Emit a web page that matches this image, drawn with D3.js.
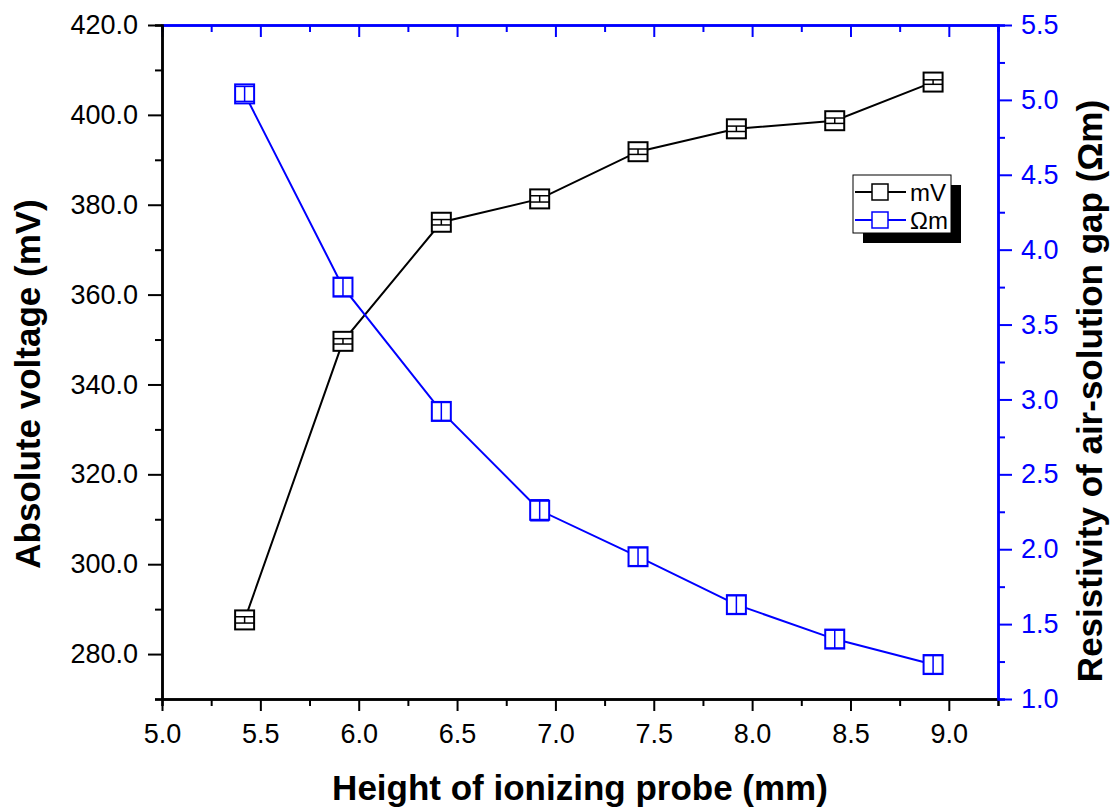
<!DOCTYPE html>
<html>
<head>
<meta charset="utf-8">
<script src="https://cdn.jsdelivr.net/npm/d3@7"></script>
<style>
  body { margin: 0; background: #fff; }
  text { font-family: Arial, "Liberation Sans", sans-serif; }
</style>
</head>
<body>
<div id="chart"></div>
<script>
// data
const heights = [5.42, 5.92, 6.42, 6.92, 7.42, 7.92, 8.42, 8.92];
const voltage = [287.6, 349.6, 376.1, 381.3, 391.8, 396.9, 398.7, 407.3];
const voltageErr = [0.7, 0.6, 0.6, 0.7, 0.6, 0.6, 0.6, 0.5];
const resistivity = [5.04, 3.75, 2.92, 2.26, 1.95, 1.63, 1.40, 1.23];
const resistivityErr = [0.05, 0.06, 0.06, 0.07, 0.06, 0.06, 0.06, 0.06];
const xTicks = [5.0, 5.5, 6.0, 6.5, 7.0, 7.5, 8.0, 8.5, 9.0];
const yLeftTicks = [280, 300, 320, 340, 360, 380, 400, 420];
const yRightTicks = [1.0, 1.5, 2.0, 2.5, 3.0, 3.5, 4.0, 4.5, 5.0, 5.5];
const legendItems = ["mV", "\u03A9m"];

const width = 1115, height = 811;
const mLeft = 162, mRight = 998, mTop = 25, mBottom = 699;
const blue = "#0000ff";

const svg = d3.select("#chart").append("svg")
    .attr("width", width)
    .attr("height", height);

const x = d3.scaleLinear().domain([5.0, 9.25]).range([mLeft, mRight]);
const yL = d3.scaleLinear().domain([270, 420]).range([mBottom, mTop]);
const yR = d3.scaleLinear().domain([1.0, 5.5]).range([mBottom, mTop]);

function minorTicks(major, step) {
    const res = [];
    for (let i = 0; i < major.length; i++) res.push(major[i] + step);
    return res;
}

// bottom axis
const gx = svg.append("g").attr("transform", `translate(0,${mBottom})`);
gx.call(d3.axisBottom(x).tickValues(xTicks).tickSize(12).tickSizeOuter(0).tickFormat(d3.format(".1f")));
gx.append("g").call(d3.axisBottom(x).tickValues(minorTicks(xTicks, 0.25).filter(d => d < 9.25)).tickSize(7).tickFormat(""));

// top axis (blue, inward ticks)
const gt = svg.append("g").attr("transform", `translate(0,${mTop})`);
gt.call(d3.axisBottom(x).tickValues(xTicks).tickSize(12).tickSizeOuter(0).tickFormat(""));
gt.append("g").call(d3.axisBottom(x).tickValues(minorTicks(xTicks, 0.25).filter(d => d < 9.25)).tickSize(7).tickFormat(""));
gt.selectAll("path, line").attr("stroke", blue);

// left axis
const gl = svg.append("g").attr("transform", `translate(${mLeft},0)`);
gl.call(d3.axisLeft(yL).tickValues(yLeftTicks).tickSize(14).tickSizeOuter(0).tickFormat(d3.format(".1f")));
gl.append("g").call(d3.axisLeft(yL).tickValues(minorTicks(yLeftTicks, -10)).tickSize(7).tickFormat(""));

// right axis
const gr = svg.append("g").attr("transform", `translate(${mRight},0)`);
gr.call(d3.axisRight(yR).tickValues(yRightTicks).tickSize(14).tickSizeOuter(0).tickFormat(d3.format(".1f")));
gr.append("g").call(d3.axisRight(yR).tickValues(minorTicks(yRightTicks, 0.25).filter(d => d < 5.5)).tickSize(7).tickFormat(""));
gr.selectAll("path, line").attr("stroke", blue);
gr.selectAll("text").attr("fill", blue);

svg.selectAll(".domain").attr("stroke-width", 2.5);
svg.selectAll(".tick line").attr("stroke-width", 2);
svg.selectAll(".tick text").style("font-size", "27px").style("font-family", "Arial, 'Liberation Sans', sans-serif");
gx.selectAll(".tick text").attr("y", 44).attr("dy", 0);
gl.selectAll(".tick text").attr("x", -24);
gr.selectAll(".tick text").attr("x", 23);

// series
function drawSeries(vals, errs, y, color) {
    const pts = heights.map((h, i) => ({x: h, y: vals[i], e: errs[i]}));
    const line = d3.line().x(d => x(d.x)).y(d => y(d.y));
    svg.append("path")
        .attr("d", line(pts))
        .attr("fill", "none")
        .attr("stroke", color)
        .attr("stroke-width", 2);
    const s = 19;
    const g = svg.append("g").selectAll("g").data(pts).join("g")
        .attr("transform", d => `translate(${x(d.x)},${y(d.y)})`);
    g.append("rect")
        .attr("x", -s / 2).attr("y", -s / 2)
        .attr("width", s).attr("height", s)
        .attr("fill", "#fff")
        .attr("stroke", color)
        .attr("stroke-width", 2);
    g.append("line")
        .attr("x1", 0).attr("x2", 0)
        .attr("y1", d => y(d.y + d.e) - y(d.y))
        .attr("y2", d => y(d.y - d.e) - y(d.y))
        .attr("stroke", color).attr("stroke-width", 1.5);
    g.selectAll("line.cap").data(d => [d.y + d.e, d.y - d.e].map(v => y(v) - y(d.y))).join("line")
        .attr("class", "cap")
        .attr("x1", -s / 2).attr("x2", s / 2)
        .attr("y1", d => d).attr("y2", d => d)
        .attr("stroke", color).attr("stroke-width", 1.5);
}
drawSeries(voltage, voltageErr, yL, "#000");
drawSeries(resistivity, resistivityErr, yR, blue);

// legend
const lg = svg.append("g").attr("transform", "translate(853,175)");
lg.append("rect").attr("x", 10).attr("y", 10).attr("width", 98).attr("height", 58).attr("fill", "#000");
lg.append("rect").attr("x", 0).attr("y", 0).attr("width", 98).attr("height", 58)
    .attr("fill", "#fff").attr("stroke", "#000").attr("stroke-width", 1);
const li = lg.selectAll("g.item").data(legendItems).join("g")
    .attr("class", "item")
    .attr("transform", (d, i) => `translate(0,${17 + i * 28})`);
li.append("line").attr("x1", 2).attr("x2", 53).attr("y1", 0).attr("y2", 0)
    .attr("stroke", (d, i) => i ? blue : "#000").attr("stroke-width", 2);
li.append("rect").attr("x", 19).attr("y", -8).attr("width", 16).attr("height", 16)
    .attr("fill", "#fff").attr("stroke", (d, i) => i ? blue : "#000").attr("stroke-width", 1.5);
li.append("text").attr("x", 57).attr("y", 9).text(d => d)
    .style("font-size", "24px").attr("fill", "#000");

// titles
svg.append("text")
    .attr("x", 580).attr("y", 800)
    .attr("text-anchor", "middle")
    .style("font-size", "35px").style("font-weight", "bold")
    .text("Height of ionizing probe (mm)");
svg.append("text")
    .attr("transform", "translate(40,384) rotate(-90)")
    .attr("text-anchor", "middle")
    .style("font-size", "35px").style("font-weight", "bold")
    .text("Absolute voltage (mV)");
svg.append("text")
    .attr("transform", "translate(1102,391) rotate(-90)")
    .attr("text-anchor", "middle")
    .style("font-size", "35px").style("font-weight", "bold")
    .text("Resistivity of air-solution gap (\u03A9m)");
</script>
</body>
</html>
